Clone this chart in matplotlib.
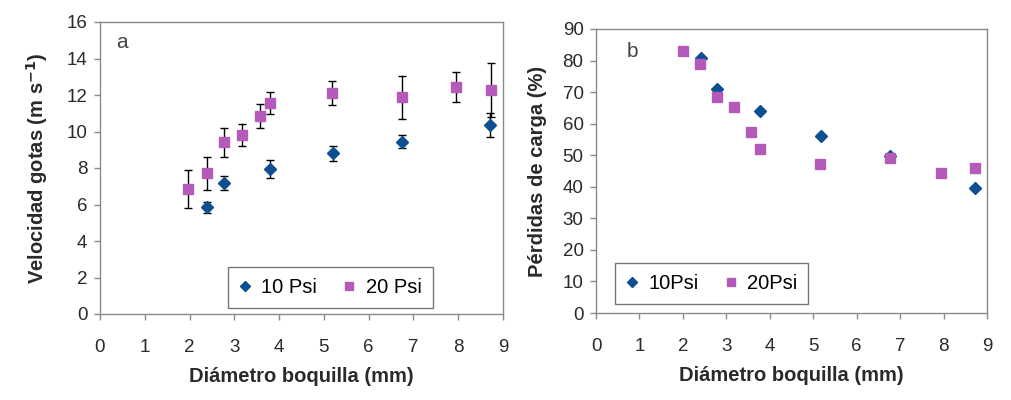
import matplotlib
matplotlib.use("Agg")
import matplotlib.pyplot as plt
from matplotlib.lines import Line2D

plt.rcParams['font.family'] = ['Liberation Sans', 'DejaVu Sans']

# Panel a: drop velocity
x10_a = [2.38, 2.77, 3.79, 5.20, 6.75, 8.72]
v10 = [5.85, 7.20, 7.96, 8.80, 9.44, 10.36]
e10 = [0.30, 0.38, 0.50, 0.40, 0.36, 0.68]

x20_a = [1.97, 2.38, 2.77, 3.18, 3.58, 3.79, 5.19, 6.75, 7.94, 8.74]
v20 = [6.85, 7.71, 9.41, 9.81, 10.85, 11.54, 12.13, 11.87, 12.45, 12.27]
e20 = [1.05, 0.92, 0.80, 0.58, 0.65, 0.60, 0.66, 1.16, 0.81, 1.46]

# Panel b: pressure losses
x10_b = [2.41, 2.78, 3.78, 5.17, 6.76, 8.73]
p10 = [80.7, 70.9, 64.0, 56.2, 49.7, 39.5]

x20_b = [2.00, 2.40, 2.78, 3.18, 3.57, 3.78, 5.16, 6.76, 7.93, 8.73]
p20 = [83.0, 78.9, 68.3, 65.4, 57.5, 52.1, 47.1, 49.2, 44.3, 45.8]

xticks = list(range(0, 10))
yticks_a = list(range(0, 17, 2))
yticks_b = list(range(0, 91, 10))

blue = '#0d4f91'
pink = '#b45ab8'
spine_c = '#8a8a8a'
txt_c = '#2a2a2a'

fig = plt.figure(figsize=(10.12, 4.0), dpi=100)
ax1 = fig.add_axes([100/1012, 1-314/400, 403/1012, 292/400])
ax2 = fig.add_axes([596/1012, 1-313/400, 391/1012, 284/400])

def style(ax):
    for s in ax.spines.values():
        s.set_color(spine_c)
        s.set_linewidth(1.0)
    ax.tick_params(direction='out', length=4, width=1, color=spine_c,
                   labelsize=13.5, labelcolor=txt_c)
    ax.tick_params(axis='y', pad=5)
    ax.tick_params(axis='x', pad=14)

def legend(ax, labels, anchor):
    handles = [Line2D([], [], ls='none', marker='D', color=blue, ms=5),
               Line2D([], [], ls='none', marker='s', color=pink, ms=5.5)]
    leg = ax.legend(handles, labels, loc='lower left', bbox_to_anchor=anchor,
                    ncol=2, fontsize=14.5, frameon=True, fancybox=False,
                    handlelength=0.6, handletextpad=0.5, columnspacing=1.3,
                    borderaxespad=0, borderpad=0.55)
    leg.get_frame().set_edgecolor('#555555')
    leg.get_frame().set_linewidth(1.0)
    return leg

# Panel a
ax1.errorbar(x20_a, v20, yerr=e20, fmt='s', color=pink, ms=7, mec=pink,
             ecolor='black', elinewidth=1, capsize=3, capthick=1, zorder=3)
ax1.errorbar(x10_a, v10, yerr=e10, fmt='D', color=blue, ms=6, mec=blue,
             ecolor='black', elinewidth=1, capsize=3, capthick=1, zorder=4)
ax1.set_xlim(0, 9)
ax1.set_ylim(0, 16)
ax1.set_xticks(xticks)
ax1.set_yticks(yticks_a)
style(ax1)
ax1.set_xlabel('Diámetro boquilla (mm)', fontsize=14.5, fontweight='bold', color=txt_c, labelpad=8)
ax1.set_ylabel('Velocidad gotas (m s$^{\\mathbf{-1}}$)', fontsize=14.5, fontweight='bold', color=txt_c, labelpad=12)
ax1.text(0.04, 0.93, 'a', transform=ax1.transAxes, fontsize=15, color='#444444', va='center', ha='left')
legend(ax1, ['10 Psi', '20 Psi'], (0.318, 0.02))

# Panel b
ax2.plot(x10_b, p10, 'D', color=blue, ms=6, zorder=3)
ax2.plot(x20_b, p20, 's', color=pink, ms=7, zorder=4)
ax2.set_xlim(0, 9)
ax2.set_ylim(0, 90)
ax2.set_xticks(xticks)
ax2.set_yticks(yticks_b)
style(ax2)
ax2.set_xlabel('Diámetro boquilla (mm)', fontsize=14.5, fontweight='bold', color=txt_c, labelpad=8)
ax2.set_ylabel('Pérdidas de carga (%)', fontsize=14.5, fontweight='bold', color=txt_c, labelpad=11)
ax2.text(0.078, 0.92, 'b', transform=ax2.transAxes, fontsize=15, color='#444444', va='center', ha='left')
legend(ax2, ['10Psi', '20Psi'], (0.049, 0.032))

fig.savefig('out.png', dpi=100)
